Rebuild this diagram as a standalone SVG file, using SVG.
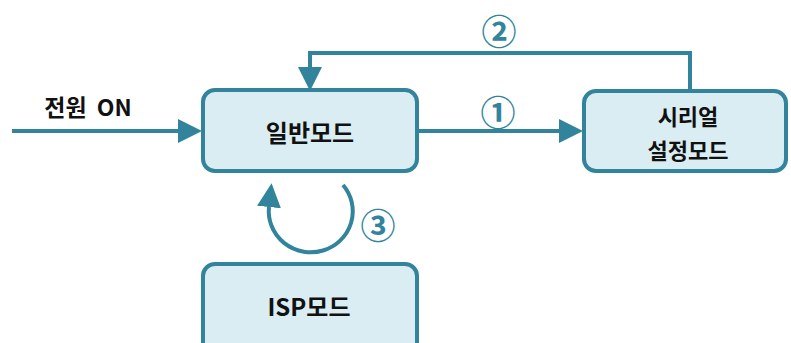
<svg xmlns="http://www.w3.org/2000/svg" width="791" height="343" viewBox="0 0 791 343">
<style>
.box{fill:#daedf3;stroke:#31849b;stroke-width:4}
.lbl{font-family:"Noto Sans CJK KR","Liberation Sans",sans-serif;font-weight:bold;font-size:24px;fill:#111;text-anchor:middle;dominant-baseline:central}
.num{font-family:"Noto Sans CJK KR","DejaVu Sans",sans-serif;font-weight:bold;font-size:35px;fill:#31849b;text-anchor:middle;dominant-baseline:central}
.conn{fill:none;stroke:#31849b;stroke-width:4}
</style>
<defs>
<marker id="ah" markerUnits="userSpaceOnUse" markerWidth="24" markerHeight="24" refX="0" refY="12" orient="auto" viewBox="0 0 24 24">
<path d="M0,0 L24,12 L0,24 z" fill="#31849b"/>
</marker>
</defs>
<g id="connectors">
<line class="conn" x1="12" y1="131" x2="178" y2="131" marker-end="url(#ah)"/>
<line class="conn" x1="418" y1="131" x2="559" y2="131" marker-end="url(#ah)"/>
<path class="conn" d="M690,90 V53 H310 V67" marker-end="url(#ah)"/>
<path class="conn" d="M343,185 A42 41 0 1 1 269,207" marker-end="url(#ah)"/>
<text class="lbl" x="88" y="106" style="font-size:23px;word-spacing:5px">전원 ON</text>
<text class="num" x="498" y="110">①</text>
<text class="num" x="499" y="29">②</text>
<text class="num" x="378" y="223">③</text>
</g>
<g id="normal">
<rect class="box" x="203" y="90" width="214" height="81" rx="12"/>
<text class="lbl" x="310" y="131">일반모드</text>
</g>
<g id="serial">
<rect class="box" x="584" y="91" width="202" height="80" rx="12"/>
<text class="lbl" style="font-size:22px"><tspan x="688" y="115">시리얼</tspan><tspan x="688" y="149">설정모드</tspan></text>
</g>
<g id="isp">
<rect class="box" x="203" y="264" width="214" height="90" rx="12"/>
<text class="lbl" x="309" y="305">ISP모드</text>
</g>
</svg>
